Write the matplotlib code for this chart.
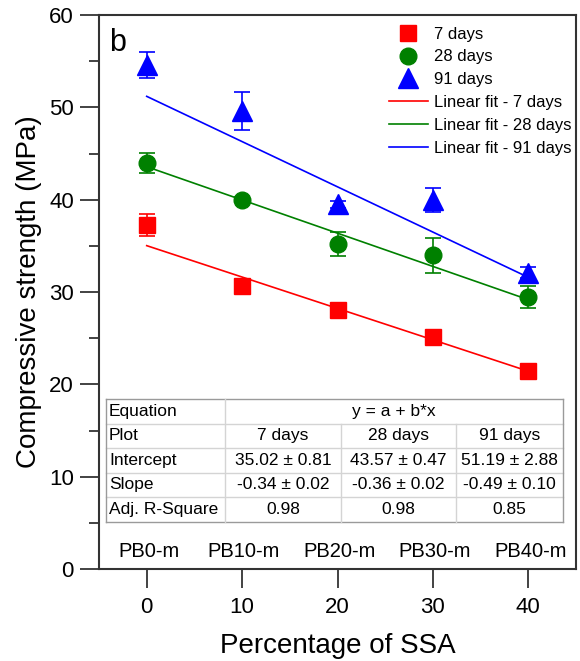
import matplotlib
matplotlib.use("Agg")
import matplotlib.pyplot as plt
from matplotlib.lines import Line2D
from matplotlib.ticker import MultipleLocator

plt.rcParams['font.family'] = ['Liberation Sans', 'DejaVu Sans']

# SSA replacement levels and mix names
ssa = [0, 10, 20, 30, 40]
mix_names = ["PB0-m", "PB10-m", "PB20-m", "PB30-m", "PB40-m"]

# Compressive strength (MPa) with standard deviations
s7 = [37.3, 30.7, 28.0, 25.1, 21.4]
e7 = [1.2, 0.3, 0.3, 0.3, 0.3]
s28 = [44.0, 40.0, 35.2, 34.0, 29.5]
e28 = [1.1, 0.3, 1.3, 1.9, 1.2]
s91 = [54.6, 49.6, 39.5, 40.0, 32.1]
e91 = [1.4, 2.1, 0.4, 1.3, 0.6]

# Linear fit parameters (y = a + b*x)
fit_a = [35.02, 43.57, 51.19]
fit_b = [-0.34, -0.36, -0.49]
fit_a_err = [0.81, 0.47, 2.88]
fit_b_err = [0.02, 0.02, 0.10]
adj_r2 = [0.98, 0.98, 0.85]
ages = ["7 days", "28 days", "91 days"]

colors = ["#ff0000", "#008000", "#0000ff"]
markers = ["s", "o", "^"]
msizes = [11, 12, 14]

fig = plt.figure(figsize=(5.8, 6.61), dpi=100)
ax = fig.add_axes([99 / 580, 92 / 661, (576 - 99) / 580, (569 - 15) / 661])

series = [(s7, e7), (s28, e28), (s91, e91)]
for (vals, errs), c, m, ms in zip(series, colors, markers, msizes):
    ax.errorbar(ssa, vals, yerr=errs, fmt=m, color=c, ms=ms, capsize=6,
                elinewidth=1.2, capthick=1.2, zorder=3, linestyle='none')

for a, b, c in zip(fit_a, fit_b, colors):
    xs = [ssa[0], ssa[-1]]
    ax.plot(xs, [a + b * x for x in xs], color=c, lw=1.2, zorder=2)

ax.set_xlim(-5, 45)
ax.set_ylim(0, 60)
ax.set_xticks(ssa)
ax.yaxis.set_major_locator(MultipleLocator(10))
ax.yaxis.set_minor_locator(MultipleLocator(5))
ax.tick_params(axis='both', which='major', direction='out', length=14,
               width=1.2, labelsize=16, colors='#222222', labelcolor='black')
ax.tick_params(axis='y', which='minor', direction='out', length=7, width=1.2,
               colors='#222222')
ax.tick_params(axis='x', pad=6)
ax.tick_params(axis='y', pad=4)
for sp in ax.spines.values():
    sp.set_linewidth(1.5)
    sp.set_color('#333333')

ax.set_xlabel("Percentage of SSA", fontsize=20, labelpad=11)
ax.set_ylabel("Compressive strength (MPa)", fontsize=20, labelpad=5)

ax.text(0.022, 0.977, "b", transform=ax.transAxes, fontsize=22,
        va='top', ha='left')

for x, name in zip(ssa, mix_names):
    ax.text(x + 0.2, 1.9, name, fontsize=14.5, ha='center', va='center')

handles = [Line2D([], [], color=c, marker=m, ls='none', ms=ms)
           for c, m, ms in zip(colors, markers, msizes)]
handles += [Line2D([], [], color=c, lw=1.2) for c in colors]
labels = ages + ["Linear fit - " + a for a in ages]
ax.legend(handles, labels, loc='upper right', bbox_to_anchor=(1.012, 0.997),
          frameon=False, fontsize=12, labelspacing=0.47, handlelength=2.3,
          handletextpad=0.4, borderaxespad=0.2)

# Fit summary table drawn in axes coordinates
W, H = 477, 554
def ax_x(px):
    return (px - 99) / W
def ax_y(py):
    return (569 - py) / H

col_edges = [106, 225, 341, 456, 563]
row_edges = [399, 423.5, 448, 472.5, 497, 521.5]
inner = '#d4d4d4'
outer = '#9a9a9a'
tr = ax.transAxes
for i, y in enumerate(row_edges):
    c = outer if i in (0, len(row_edges) - 1) else inner
    ax.plot([ax_x(col_edges[0]), ax_x(col_edges[-1])], [ax_y(y)] * 2,
            color=c, lw=1.0, transform=tr, clip_on=False, zorder=4)
for j, x in enumerate(col_edges):
    top = row_edges[0] if j in (0, 1, 4) else row_edges[1]
    c = outer if j in (0, len(col_edges) - 1) else inner
    ax.plot([ax_x(x)] * 2, [ax_y(top), ax_y(row_edges[-1])],
            color=c, lw=1.0, transform=tr, clip_on=False, zorder=4)

row_titles = ["Equation", "Plot", "Intercept", "Slope", "Adj. R-Square"]
cells = [
    ages,
    ["%.2f \u00b1 %.2f" % (a, e) for a, e in zip(fit_a, fit_a_err)],
    ["%.2f \u00b1 %.2f" % (b, e) for b, e in zip(fit_b, fit_b_err)],
    ["%.2f" % r for r in adj_r2],
]
fs = 12.5
for i, t in enumerate(row_titles):
    yc = ax_y((row_edges[i] + row_edges[i + 1]) / 2)
    ax.text(ax_x(col_edges[0] + 3), yc, t, transform=tr, fontsize=fs,
            ha='left', va='center')
ax.text(ax_x((col_edges[1] + col_edges[4]) / 2),
        ax_y((row_edges[0] + row_edges[1]) / 2), "y = a + b*x",
        transform=tr, fontsize=fs, ha='center', va='center')
for i, row in enumerate(cells):
    yc = ax_y((row_edges[i + 1] + row_edges[i + 2]) / 2)
    for j, t in enumerate(row):
        xc = ax_x((col_edges[j + 1] + col_edges[j + 2]) / 2)
        ax.text(xc, yc, t, transform=tr, fontsize=fs, ha='center',
                va='center')

fig.savefig("out.png", dpi=100)
